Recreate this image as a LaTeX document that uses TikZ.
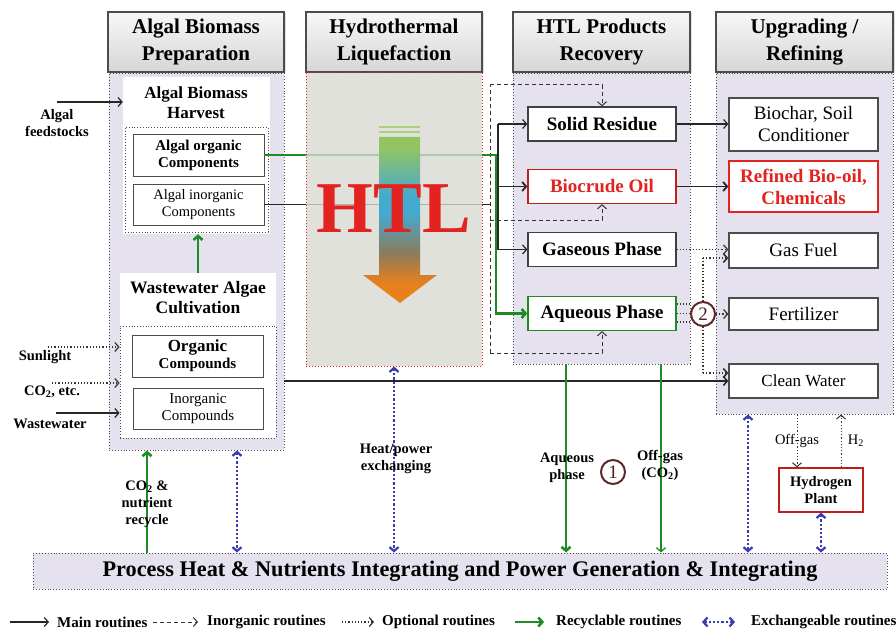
\documentclass[tikz,border=0pt]{standalone}
\usepackage{fontspec}
\setmainfont{Liberation Serif}
\usetikzlibrary{arrows.meta, shadows}

\definecolor{lav}{HTML}{E6E1EE}
\definecolor{recgreen}{HTML}{1E8C22}
\definecolor{exblue}{HTML}{3A3AB4}
\definecolor{htlred}{HTML}{E2231F}
\definecolor{htlbg}{HTML}{D9D8D1}
\definecolor{numbrown}{HTML}{5C2A2A}
\definecolor{flowtop}{HTML}{94C462}
\definecolor{flowmid}{HTML}{45AAD0}
\definecolor{flowlow}{HTML}{8A7B5C}
\definecolor{flowhead}{HTML}{E8801C}

\pgfdeclareverticalshading{htlflow}{100bp}{color(0bp)=(flowhead); color(31bp)=(flowhead); color(40bp)=(flowlow); color(52bp)=(flowmid); color(57bp)=(flowmid); color(72bp)=(flowtop); color(100bp)=(flowtop)}

\newcommand{\fsz}[2]{\fontsize{#1}{#2}\selectfont}

\tikzset{
  >={Straight Barb[length=4pt,width=9pt]},
  hdr/.style={draw=gray!60!black, line width=1.2pt, top color=gray!6, bottom color=gray!32,
    minimum width=176, minimum height=60, align=center, font=\fsz{21}{27}\bfseries,
    drop shadow={opacity=0.25, shadow xshift=1.5pt, shadow yshift=-1.5pt}},
  colbody/.style={draw=gray!60!black, dotted, line width=0.9pt, fill=lav},
  pbox/.style={draw=black!75, line width=1.3pt, fill=white, minimum width=148, minimum height=34,
    font=\fsz{19}{21}\bfseries},
  ubox/.style={draw=black!70, line width=1.3pt, fill=white, minimum width=149, align=center,
    font=\fsz{19}{22}},
  ibox/.style={draw=gray!60!black, line width=0.9pt, fill=white, align=center,
    minimum width=131, minimum height=42},
  wbox/.style={fill=white, draw=none, inner sep=0},
  dbox/.style={draw=gray!60!black, dotted, line width=0.8pt, inner sep=0},
  lab/.style={align=center, font=\fsz{14.5}{17}\bfseries},
  main/.style={black!85, line width=1.2pt},
  inorg/.style={black!80, line width=1pt, dash pattern=on 4pt off 3pt},
  opt/.style={black!80, line width=1.2pt, dotted},
  recyc/.style={recgreen, line width=2.6pt},
  exch/.style={exblue, line width=2.2pt, dotted, <->},
  num/.style={circle, draw=numbrown, line width=2pt, minimum size=24, inner sep=0,
    fill=white, fill opacity=0.6, text opacity=1, font=\fsz{19}{19}, text=numbrown!80!black},
  leg/.style={anchor=west, font=\fsz{15}{17}\bfseries, inner sep=2pt}
}

\begin{document}
\begin{tikzpicture}[x=1pt, y=-1pt]
\useasboundingbox (0,0) rectangle (896,631);

% column bodies
\node[colbody, minimum width=175, minimum height=377] (prep) at (196.5,261.5) {};
\node[colbody, minimum width=177, minimum height=291] (recov) at (601.5,218.5) {};
\node[colbody, minimum width=177, minimum height=341] (upgr) at (804.5,243.5) {};

% column headers
\node[hdr] (hprep) at (196,42) {Algal Biomass\\Preparation};
\node[hdr] (hhtl) at (394,42) {Hydrothermal\\Liquefaction};
\node[hdr, minimum width=177] (hrec) at (601.5,42) {HTL Products\\Recovery};
\node[hdr, minimum width=177] (hupg) at (804.5,42) {Upgrading /\\Refining};

% algal biomass preparation
\node[wbox, minimum width=147, minimum height=157] (harv) at (196.5,155.5) {};
\node[lab, font=\fsz{17}{20}\bfseries] (harvt) at (196,103) {Algal Biomass\\Harvest};
\node[dbox, minimum width=143, minimum height=105] (harvin) at (196.5,179.5) {};
\node[ibox, font=\fsz{15}{17}\bfseries] (orgc) at (198.5,155) {Algal organic\\Components};
\node[ibox, font=\fsz{14.5}{17}, minimum height=41] (inorgc) at (198.5,204.5) {Algal inorganic\\Components};

\node[wbox, minimum width=156, minimum height=165] (ww) at (198,355.5) {};
\node[lab, font=\fsz{17.5}{20}\bfseries] (wwt) at (198,298) {Wastewater Algae\\Cultivation};
\node[dbox, minimum width=156, minimum height=112] (wwin) at (198,382) {};
\node[ibox, font=\fsz{15}{17}\bfseries] (orgcp) at (197.5,356) {{\fsz{17}{17}Organic}\\Compounds};
\node[ibox, font=\fsz{15}{17}, minimum width=130, minimum height=41] (inorgcp) at (198,408.5) {Inorganic\\Compounds};

% products
\node[pbox] (solid) at (602,124) {Solid Residue};
\node[pbox, draw=htlred!85!black, text=htlred] (bio) at (602,186.5) {Biocrude Oil};
\node[pbox] (gas) at (602,249.5) {Gaseous Phase};
\node[pbox, draw=recgreen] (aq) at (602,313.5) {Aqueous Phase};

% upgrading / refining
\node[ubox, minimum height=53] (biochar) at (803.5,124.5) {Biochar, Soil\\Conditioner};
\node[ubox, minimum height=51, draw=htlred, text=htlred, font=\fsz{19}{22}\bfseries] (refined) at (803.5,186.5) {Refined Bio-oil,\\Chemicals};
\node[ubox, minimum height=35] (gasfuel) at (803.5,250.5) {Gas Fuel};
\node[ubox, minimum height=32] (fert) at (803.5,314) {Fertilizer};
\node[ubox, minimum height=34, font=\fsz{17}{20}] (water) at (803.5,381) {Clean Water};

\node[draw=htlred!85!black, line width=1.2pt, fill=white, minimum width=84, minimum height=44,
  align=center, font=\fsz{14.5}{17}\bfseries] (h2) at (821,490) {Hydrogen\\Plant};

% integration bar
\node[draw=gray!60!black, dotted, line width=0.9pt, fill=lav, minimum width=854, minimum height=36,
  font=\fsz{22.3}{22}\bfseries] (bar) at (460,571) {Process Heat \& Nutrients Integrating and Power Generation \& Integrating};

% inputs
\coordinate (fa) at (57,102);
\coordinate (sl) at (48,347);
\coordinate (co) at (52,383);
\coordinate (wa) at (56,413);
\draw[main, ->] (fa) -- (fa -| harv.west);
\draw[opt, ->] (sl) -- (sl -| wwin.west);
\draw[opt, ->] (co) -- (co -| wwin.west);
\draw[main, ->] (wa) -- (wa -| wwin.west);
\node[lab] (falab) at (57,123) {Algal\\feedstocks};
\node[lab] (sllab) at (45,357) {Sunlight};
\node[lab] (colab) at (52,392) {CO\textsubscript{2}, etc.};
\node[lab] (walab) at (50,424) {Wastewater};

% main and inorganic routes into the products
\coordinate (mx) at (498,0);
\coordinate (gx) at (496,0);
\coordinate (dtop) at (490,85);
\coordinate (dmid) at (490,220);
\coordinate (dbot) at (490,353);
\draw[main, line width=0.9pt] (inorgc.east) -- (inorgc.east -| dtop);
\draw[inorg] (dbot) -- (dtop);
\draw[inorg, ->] (dtop) -| (solid.north);
\draw[inorg, ->] (dmid) -| (bio.south);
\draw[inorg, ->] (dbot) -| (aq.south);
\draw[main] (solid.west -| mx) -- (gas.west -| mx);
\draw[main, ->] (solid.west -| mx) -- (solid.west);
\draw[main, line width=1.8pt, ->] (bio.west -| mx) -- (bio.west);
\draw[main, ->] (gas.west -| mx) -- (gas.west);
\draw[recyc, ->] (orgc.east) -- (orgc.east -| gx) -- (aq.west -| gx) -- (aq.west);
\draw[recyc, ->] (ww.north) -- (ww.north |- harv.south);

% products to upgrading
\draw[main, ->] (solid.east) -- (solid.east -| biochar.west);
\draw[main, line width=1.8pt, ->] (bio.east) -- (bio.east -| refined.west);
\draw[opt, ->] (gas.east) -- (gas.east -| gasfuel.west);
\node[num] (c2) at (703,314) {2};
\foreach \dy in {9.5,0,-8.5}
  \draw[opt, line width=1.6pt] ([yshift=\dy pt]aq.east) -- ([yshift=\dy pt]aq.east -| c2.west);
\coordinate (vt) at (703,258);
\coordinate (vb) at (703,373);
\draw[opt, line width=2pt] (vt) -- (c2.north);
\draw[opt, line width=2pt] (c2.south) -- (vb);
\draw[opt, line width=1.6pt, ->] (vt) -- (vt -| gasfuel.west);
\draw[opt, line width=1.6pt, ->] (vb) -- (vb -| water.west);
\draw[opt, ->] (c2.east) -- (fert.west);
\draw[main, line width=1.5pt, ->] (water.west -| prep.east) -- (water.west);

% recycle and exchange with the integration bar
\coordinate (rx) at (147,0);
\coordinate (bx) at (237,0);
\coordinate (ax) at (566,0);
\coordinate (ox) at (661,0);
\coordinate (ux) at (748,0);
\coordinate (og) at (797,0);
\coordinate (hx) at (841,0);
\draw[recyc, ->] (bar.north -| rx) -- (prep.south -| rx);
\draw[recyc, ->] (recov.south -| ax) -- (bar.north -| ax);
\draw[recyc, line width=1.3pt, ->] (recov.south -| ox) -- (bar.north -| ox);
\draw[exch] (prep.south -| bx) -- (bar.north -| bx);
\draw[exch] (upgr.south -| ux) -- (bar.north -| ux);
\draw[exch] (h2.south) -- (bar.north -| h2.south);
\draw[opt, line width=1pt, ->] (upgr.south -| og) -- (h2.north -| og);
\draw[opt, line width=1pt, ->] (h2.north -| hx) -- (upgr.south -| hx);

% HTL reactor
\node[draw=htlred, dotted, line width=1pt, fill=htlbg, fill opacity=0.78, minimum width=176, minimum height=293] (htlbox) at (394,219.5) {};
\draw[exch] (htlbox.south) -- (bar.north -| htlbox.south);
\fill[flowtop!80!white] (379,126) rectangle (420,128.5);
\fill[flowtop!80!white] (379,131) rectangle (420,133.5);
\shade[shading=htlflow] (379,137) -- (420,137) -- (420,275) -- (437,275) -- (400,303) -- (363,275) -- (379,275) -- cycle;
\node[text=htlred, font=\fsz{73}{73}\bfseries] (htl) at (394,209) {HTL};

% route labels
\node[lab] (rclab) at (147,504) {CO\textsubscript{2} \&\\nutrient\\recycle};
\node[lab] (hplab) at (396,459) {Heat/power\\exchanging};
\node[lab] (aqlab) at (567,468) {Aqueous\\phase};
\node[lab] (oflab) at (660,465) {Off-gas\\(CO\textsubscript{2})};
\node[num] (c1) at (613,472) {1};
\node[font=\fsz{14.5}{17}] (oglab) at (797,441) {Off-gas};
\node[font=\fsz{14.5}{17}] (h2lab) at (856,441) {H\textsubscript{2}};

% legend
\node[leg] (lmain) at (55,622) {Main routines};
\node[leg] (linorg) at (205,622) {Inorganic routines};
\node[leg] (lopt) at (380,622) {Optional routines};
\node[leg] (lrec) at (554,622) {Recyclable routines};
\node[leg] (lexch) at (749,622) {Exchangeable routines};
\coordinate (g1) at (10,622);
\coordinate (g2) at (153,622);
\coordinate (g3) at (342,622);
\coordinate (g4) at (515,622);
\coordinate (g5) at (702,622);
\draw[main, ->] (g1) -- ([xshift=-6pt]lmain.west);
\draw[inorg, ->] (g2) -- ([xshift=-7pt]linorg.west);
\draw[opt, ->] (g3) -- ([xshift=-6pt]lopt.west);
\draw[recyc, ->] (g4) -- ([xshift=-10pt]lrec.west);
\draw[exch] (g5) -- ([xshift=-14pt]lexch.west);
\end{tikzpicture}
\end{document}
